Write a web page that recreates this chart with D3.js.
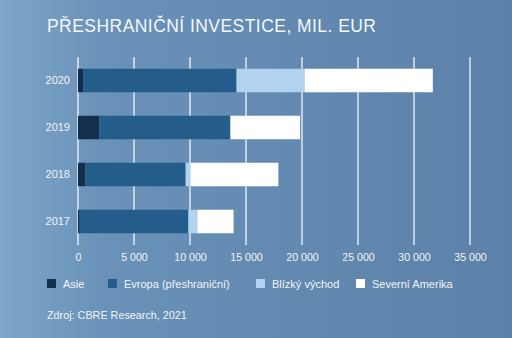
<!DOCTYPE html>
<html><head><meta charset="utf-8">
<script src="https://cdn.jsdelivr.net/npm/d3@7"></script>
<style>
html,body{margin:0;padding:0;overflow:hidden;}
svg{display:block;font-family:"Liberation Sans",Arial,sans-serif;}
</style></head>
<body>
<script>
const years = ["2020","2019","2018","2017"];
const seriesNames = ["Asie","Evropa (přeshraniční)","Blízký východ","Severní Amerika"];
const asie = [450, 1900, 650, 150];
const evropa = [13700, 11700, 8960, 9700];
const blizky = [6070, 0, 450, 800];
const severni = [11460, 6230, 7830, 3240];
const xTicks = [0,5000,10000,15000,20000,25000,30000,35000];
const colors = ["#132f4c","#245d89","#b2d2f0","#ffffff"];

const W=512,H=338;
const svg=d3.select("body").append("svg").attr("width",W).attr("height",H);
const defs=svg.append("defs");
const g=defs.append("linearGradient").attr("id","bg").attr("x1","0").attr("y1","0").attr("x2","1").attr("y2","0");
g.append("stop").attr("offset","0").attr("stop-color","#7ea6c9");
g.append("stop").attr("offset","0.2").attr("stop-color","#6a91b7");
g.append("stop").attr("offset","1").attr("stop-color","#5b81a9");
svg.append("rect").attr("width",W).attr("height",H).attr("fill","url(#bg)");

svg.append("text").attr("x",47).attr("y",32).attr("fill","#f4f7fb")
  .attr("font-size",17.5).attr("letter-spacing",0.45).attr("font-weight",500)
  .text("PŘESHRANIČNÍ INVESTICE, MIL. EUR");

const x=d3.scaleLinear().domain([0,35000]).range([78,470]);
const y=d3.scaleBand().domain(years).range([57,245]).paddingInner(0.5).paddingOuter(0.25);

// gridlines
svg.append("g").selectAll("line").data(xTicks).join("line")
  .attr("x1",d=>x(d)).attr("x2",d=>x(d)).attr("y1",57).attr("y2",245)
  .attr("stroke","#ffffff").attr("stroke-width",1.2);

const stackData=years.map((yr,i)=>{const o={year:yr};seriesNames.forEach((s,j)=>o[s]=[asie,evropa,blizky,severni][j][i]);return o;});
const stack=d3.stack().keys(seriesNames)(stackData);
svg.append("g").selectAll("g").data(stack).join("g").attr("fill",(d,i)=>colors[i])
  .selectAll("rect").data(d=>d).join("rect")
  .attr("x",d=>x(d[0])).attr("width",d=>x(d[1])-x(d[0]))
  .attr("y",d=>y(d.data.year)).attr("height",y.bandwidth());

// axes
const xa=svg.append("g").attr("transform","translate(0,245)")
  .call(d3.axisBottom(x).tickValues(xTicks).tickSize(0).tickPadding(8)
    .tickFormat(d=>d3.format(",")(d).replace(/,/g," ")));
xa.select(".domain").remove();
xa.selectAll("text").attr("fill","#f0f4f8").attr("font-size",10.6).attr("font-family","Liberation Sans, Arial, sans-serif");

const ya=svg.append("g").attr("transform","translate(70,0)")
  .call(d3.axisLeft(y).tickSize(0).tickPadding(0));
ya.select(".domain").remove();
ya.selectAll("text").attr("fill","#f0f4f8").attr("font-size",11).attr("font-family","Liberation Sans, Arial, sans-serif");

// legend
const legX=[47,108,256,356];
const leg=svg.append("g").selectAll("g").data(seriesNames).join("g")
  .attr("transform",(d,i)=>`translate(${legX[i]},279)`);
leg.append("rect").attr("width",9).attr("height",9).attr("fill",(d,i)=>colors[i]);
leg.append("text").attr("x",16).attr("y",8.5).attr("fill","#f0f4f8").attr("font-size",11).text(d=>d);

svg.append("text").attr("x",47).attr("y",319).attr("fill","#f0f4f8").attr("font-size",10.8)
  .text("Zdroj: CBRE Research, 2021");
</script>
</body></html>
